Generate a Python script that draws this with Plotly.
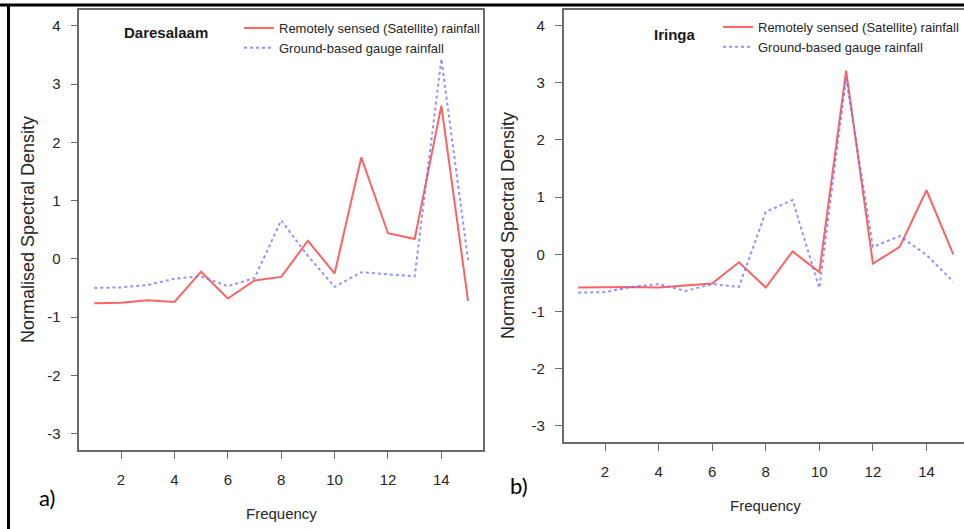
import plotly.graph_objects as go

W, H = 964, 529

freq = list(range(1, 16))

dar_satellite = [-0.76, -0.755, -0.71, -0.74, -0.22, -0.68, -0.37, -0.31, 0.31, -0.25, 1.74, 0.44, 0.34, 2.63, -0.72]
dar_gauge = [-0.50, -0.49, -0.45, -0.34, -0.30, -0.47, -0.33, 0.66, 0.05, -0.48, -0.23, -0.26, -0.30, 3.43, -0.02]

iri_satellite = [-0.58, -0.57, -0.57, -0.58, -0.54, -0.51, -0.14, -0.58, 0.05, -0.31, 3.21, -0.16, 0.13, 1.12, 0.0]
iri_gauge = [-0.67, -0.66, -0.57, -0.52, -0.64, -0.52, -0.57, 0.74, 0.95, -0.59, 3.08, 0.13, 0.32, -0.01, -0.48]

x_ticks = [2, 4, 6, 8, 10, 12, 14]
y_ticks = [-3, -2, -1, 0, 1, 2, 3, 4]
y_tick_labels = ["-3", "-2", "-1", "0", "1", "2", "3", "4"]

name_sat = "Remotely sensed (Satellite) rainfall"
name_gauge = "Ground-based gauge rainfall"
station_a = "Daresalaam"
station_b = "Iringa"

RED = "rgba(255,70,70,0.85)"
BLUE = "rgba(110,110,255,0.75)"
AX = "#6a6a6a"
TXT = "#262626"
SANS = "Liberation Sans, Arial"

def px(x):
    return x / W

def py(y):
    return 1 - y / H

fig = go.Figure()

fig.add_trace(go.Scatter(x=freq, y=dar_satellite, mode="lines", name=name_sat,
                         line=dict(color=RED, width=2), xaxis="x", yaxis="y", legend="legend"))
fig.add_trace(go.Scatter(x=freq, y=dar_gauge, mode="lines", name=name_gauge,
                         line=dict(color=BLUE, width=2, dash="dot"), xaxis="x", yaxis="y", legend="legend"))
fig.add_trace(go.Scatter(x=freq, y=iri_satellite, mode="lines", name=name_sat,
                         line=dict(color=RED, width=2), xaxis="x2", yaxis="y2", legend="legend2"))
fig.add_trace(go.Scatter(x=freq, y=iri_gauge, mode="lines", name=name_gauge,
                         line=dict(color=BLUE, width=2, dash="dot"), xaxis="x2", yaxis="y2", legend="legend2"))

common_x = dict(tickvals=x_ticks, ticks="outside", ticklen=7, tickcolor=AX, tickwidth=1.2,
                showline=True, linecolor=AX, linewidth=1.5, showgrid=False, zeroline=False,
                tickfont=dict(family=SANS, size=15, color=TXT), ticklabelstandoff=8)
common_y = dict(tickvals=y_ticks, ticktext=y_tick_labels, ticks="outside", ticklen=7, tickcolor=AX,
                tickwidth=1.2, showline=True, linecolor=AX, linewidth=1.5, showgrid=False, zeroline=False,
                tickfont=dict(family=SANS, size=15, color=TXT), ticklabelstandoff=7)

fig.update_layout(
    width=W, height=H, margin=dict(l=0, r=0, t=0, b=0),
    paper_bgcolor="white", plot_bgcolor="white",
    xaxis=dict(domain=[px(79.4), px(483)], range=[0.44, 15.56], anchor="y", mirror=True, **common_x),
    yaxis=dict(domain=[py(450), py(10)], range=[-3.28, 4.27], anchor="x", mirror=True, **common_y),
    xaxis2=dict(domain=[px(563.5), 1.0], range=[0.451, 15.40], anchor="y2", mirror=True, **common_x),
    yaxis2=dict(domain=[py(442), py(10)], range=[-3.28, 4.27], anchor="x2", mirror=False, **common_y),
    legend=dict(x=px(239), y=py(13), xanchor="left", yanchor="top", bgcolor="rgba(0,0,0,0)",
                font=dict(family=SANS, size=13, color=TXT), tracegroupgap=0),
    legend2=dict(x=1.0, y=py(12), xanchor="right", yanchor="top", bgcolor="rgba(0,0,0,0)",
                 font=dict(family=SANS, size=13, color=TXT), tracegroupgap=0),
    showlegend=True,
)

ann = []
ann.append(dict(text="<b>%s</b>" % station_a, x=px(122), y=py(32), xref="paper", yref="paper",
                xanchor="left", yanchor="middle", showarrow=False,
                font=dict(family=SANS, size=15, color="#1a1a1a")))
ann.append(dict(text="<b>%s</b>" % station_b, x=px(652), y=py(35), xref="paper", yref="paper",
                xanchor="left", yanchor="middle", showarrow=False,
                font=dict(family=SANS, size=15, color="#1a1a1a")))
for xc, yc in [(28, 230), (508, 226)]:
    ann.append(dict(text="Normalised Spectral Density", x=px(xc), y=py(yc), xref="paper", yref="paper",
                    xanchor="center", yanchor="middle", textangle=-90, showarrow=False,
                    font=dict(family=SANS, size=18, color=TXT)))
for xc, yc in [(281, 513), (765, 505)]:
    ann.append(dict(text="Frequency", x=px(xc), y=py(yc), xref="paper", yref="paper",
                    xanchor="center", yanchor="middle", showarrow=False,
                    font=dict(family=SANS, size=15, color=TXT)))
ann.append(dict(text="a)", x=px(47), y=py(497), xref="paper", yref="paper", xanchor="center",
                yanchor="middle", showarrow=False, font=dict(family="Lato, Open Sans", size=22, color="black")))
ann.append(dict(text="b)", x=px(519), y=py(485), xref="paper", yref="paper", xanchor="center",
                yanchor="middle", showarrow=False, font=dict(family="Lato, Open Sans", size=22, color="black")))
fig.update_layout(annotations=ann)

fig.update_layout(shapes=[
    dict(type="line", xref="paper", yref="paper", x0=0, x1=1, y0=py(5), y1=py(5),
         line=dict(color="black", width=3)),
    dict(type="line", xref="paper", yref="paper", x0=px(8.5), x1=px(8.5), y0=py(5), y1=0,
         line=dict(color="black", width=3)),
])

fig.write_html("out.html")
